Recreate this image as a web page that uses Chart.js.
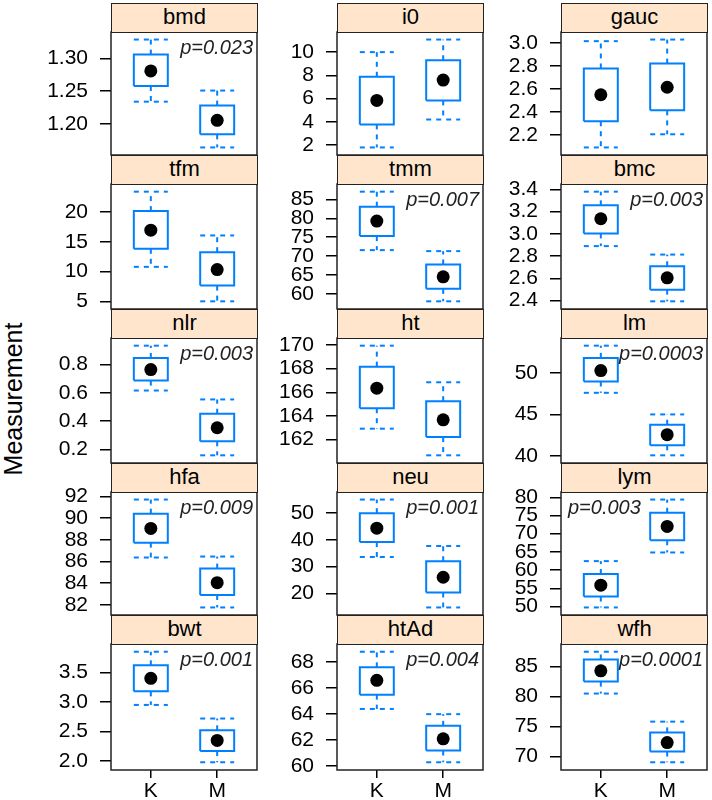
<!DOCTYPE html>
<html>
<head>
<meta charset="utf-8">
<script src="https://cdn.jsdelivr.net/npm/chart.js@4.4.1/dist/chart.umd.min.js"></script>
<style>
  body { margin: 0; background: #fff; font-family: "Liberation Sans", Arial, sans-serif; }
  #wrap { position: relative; width: 712px; height: 800px; }
  .strip {
    position: absolute; box-sizing: border-box; background: #ffe5cc;
    border: 1.5px solid #222; text-align: center; font-size: 22px;
    line-height: 26px; color: #000;
  }
  canvas { position: absolute; }
  #ylab {
    position: absolute; left: 13px; top: 399px; font-size: 25px; color: #000;
    transform: translate(-50%, -50%) rotate(-90deg); white-space: nowrap;
  }
</style>
</head>
<body>
<div id="wrap"><div id="ylab">Measurement</div></div>
<script>
// Panel names (lattice order, left-to-right, top-to-bottom)
const panels = ['bmd', 'i0', 'gauc', 'tfm', 'tmm', 'bmc', 'nlr', 'ht', 'lm', 'hfa', 'neu', 'lym', 'bwt', 'htAd', 'wfh'];
const groups = ['K', 'M'];

// Box stats per panel: [lower whisker, Q1, median, Q3, upper whisker]
const statsK = [
    [1.234, 1.258, 1.281, 1.306, 1.329],
    [1.81, 3.79, 5.85, 7.88, 10.0],
    [2.094, 2.321, 2.55, 2.778, 3.014],
    [10.81, 13.84, 16.97, 20.17, 23.43],
    [71.56, 75.27, 79.25, 83.06, 87.04],
    [2.89, 3.004, 3.136, 3.256, 3.379],
    [0.617, 0.687, 0.765, 0.847, 0.934],
    [162.93, 164.66, 166.35, 168.17, 169.94],
    [47.6, 48.96, 50.28, 51.8, 53.27],
    [86.36, 87.73, 89.04, 90.4, 91.7],
    [33.6, 39.2, 44.4, 50.0, 55.1],
    [49.73, 52.73, 55.84, 58.9, 62.46],
    [2.95, 3.18, 3.40, 3.62, 3.85],
    [64.4, 65.5, 66.6, 67.6, 68.8],
    [80.5, 82.5, 84.3, 86.2, 87.5]
];
const statsM = [
    [1.164, 1.184, 1.2055, 1.228, 1.251],
    [4.21, 5.85, 7.6, 9.30, 11.08],
    [2.208, 2.415, 2.615, 2.82, 3.028],
    [5.02, 7.66, 10.35, 13.27, 16.08],
    [58.0, 61.3, 64.5, 67.76, 71.3],
    [2.394, 2.499, 2.605, 2.709, 2.814],
    [0.159, 0.258, 0.354, 0.453, 0.554],
    [160.68, 162.22, 163.68, 165.25, 166.85],
    [40.08, 41.28, 42.57, 43.76, 45.0],
    [81.76, 82.91, 84.04, 85.34, 86.45],
    [14.7, 20.3, 26.0, 32.0, 37.7],
    [64.83, 68.19, 72.0, 75.74, 79.37],
    [1.98, 2.17, 2.35, 2.52, 2.72],
    [60.3, 61.2, 62.1, 63.1, 64.0],
    [69.0, 70.8, 72.3, 74.0, 75.8]
];

// p-value annotations ('' = none), and which side they sit on
const pValues = ['p=0.023', '', '', '', 'p=0.007', 'p=0.003', 'p=0.003', '', 'p=0.0003',
                 'p=0.009', 'p=0.001', 'p=0.003', 'p=0.001', 'p=0.004', 'p=0.0001'];
const pSide = ['right', '', '', '', 'right', 'right', 'right', '', 'right',
               'right', 'right', 'left', 'right', 'right', 'right'];

// y tick spacing and decimals for each panel
const tickSteps = [0.05, 2, 0.2, 5, 5, 0.2, 0.2, 2, 5, 2, 10, 5, 0.5, 2, 5];
const tickDecimals = [2, 0, 1, 0, 0, 1, 1, 0, 0, 0, 0, 0, 1, 0, 0];

// Layout
const colLeft = [111, 337, 561];
const panelW = 146;
const stripH = 29;
const stripTops = [3, 155, 309, 463, 615];
const plotBottom = 770;
const AXIS_W = 100;
const OVER = 14;          // room above/below the panel so edge tick labels are not clipped
const BLUE = '#0080ff';
const HALF = 0.256;

const wrap = document.getElementById('wrap');

// Draws the panel frame and the p-value label
const panelDeco = {
    id: 'panelDeco',
    afterDatasetsDraw(chart, args, opts) {
        const { ctx, chartArea: a } = chart;
        ctx.save();
        ctx.strokeStyle = '#222';
        ctx.lineWidth = 1.5;
        ctx.strokeRect(a.left, a.top, a.right - a.left, a.bottom - a.top);
        if (opts.text) {
            ctx.font = 'italic 20px "Liberation Sans", Arial, sans-serif';
            ctx.fillStyle = '#222';
            ctx.textBaseline = 'middle';
            if (opts.side === 'left') {
                ctx.textAlign = 'left';
                ctx.fillText(opts.text, a.left + 7, a.top + 16);
            } else {
                ctx.textAlign = 'right';
                ctx.fillText(opts.text, a.right - 4, a.top + 16);
            }
        }
        ctx.restore();
    }
};

function boxDatasets(x, s) {
    const [lo, q1, med, q3, hi] = s;
    const line = { showLine: true, pointRadius: 0, borderColor: BLUE, borderWidth: 2, fill: false };
    const dash = Object.assign({}, line, { borderDash: [5, 5] });
    return [
        Object.assign({ data: [{x: x, y: q3}, {x: x, y: hi}] }, dash),
        Object.assign({ data: [{x: x, y: q1}, {x: x, y: lo}] }, dash),
        Object.assign({ data: [{x: x - HALF, y: hi}, {x: x + HALF, y: hi}] }, dash),
        Object.assign({ data: [{x: x - HALF, y: lo}, {x: x + HALF, y: lo}] }, dash),
        Object.assign({ data: [
            {x: x - HALF, y: q1}, {x: x + HALF, y: q1}, {x: x + HALF, y: q3},
            {x: x - HALF, y: q3}, {x: x - HALF, y: q1}
        ] }, line),
        { data: [{x: x, y: med}], showLine: false, pointRadius: 6.5,
          pointBackgroundColor: '#000', pointBorderWidth: 0 }
    ];
}

for (let i = 0; i < panels.length; i++) {
    const row = Math.floor(i / 3);
    const col = i % 3;
    const last = row === 4;
    const stripTop = stripTops[row];
    const panelTop = stripTop + stripH;
    const panelBottom = last ? plotBottom : stripTops[row + 1];
    const panelH = panelBottom - panelTop;

    // Canvas
    const canvas = document.createElement('canvas');
    const cw = AXIS_W + panelW + 1;
    const ch = OVER + panelH + (last ? 38 : OVER);
    canvas.width = cw;
    canvas.height = ch;
    canvas.style.left = (colLeft[col] - AXIS_W) + 'px';
    canvas.style.top = (panelTop - OVER) + 'px';
    canvas.style.width = cw + 'px';
    canvas.style.height = ch + 'px';
    wrap.appendChild(canvas);

    // Strip label (on top of the transparent canvas margin)
    const strip = document.createElement('div');
    strip.className = 'strip';
    strip.style.left = colLeft[col] + 'px';
    strip.style.top = stripTop + 'px';
    strip.style.width = (panelW + 1) + 'px';
    strip.style.height = (stripH + 1) + 'px';
    strip.textContent = panels[i];
    wrap.appendChild(strip);

    const all = statsK[i].concat(statsM[i]);
    const lo = Math.min(...all);
    const hi = Math.max(...all);
    const pad = (hi - lo) * 0.07;
    const dec = tickDecimals[i];

    new Chart(canvas, {
        type: 'scatter',
        data: { datasets: boxDatasets(1, statsK[i]).concat(boxDatasets(2, statsM[i])) },
        options: {
            responsive: false,
            maintainAspectRatio: false,
            animation: false,
            devicePixelRatio: 1,
            layout: { autoPadding: false, padding: { top: OVER, right: 1, bottom: last ? 0 : OVER, left: 0 } },
            plugins: {
                legend: { display: false },
                tooltip: { enabled: false },
                panelDeco: { text: pValues[i], side: pSide[i] }
            },
            scales: {
                x: {
                    type: 'linear',
                    min: 0.4,
                    max: 2.6,
                    display: last,
                    afterBuildTicks: (s) => { s.ticks = [{ value: 1 }, { value: 2 }]; },
                    afterFit: (s) => {
                        s.height = last ? 38 : 0;
                        s.paddingLeft = 0; s.paddingRight = 0;
                    },
                    grid: { drawOnChartArea: false, tickLength: 8, color: '#000', lineWidth: 1.5 },
                    border: { display: false },
                    ticks: {
                        autoSkip: false, maxRotation: 0, padding: 1, color: '#000',
                        font: { size: 21, family: '"Liberation Sans", Arial, sans-serif' },
                        callback: (v) => groups[v - 1]
                    }
                },
                y: {
                    type: 'linear',
                    min: lo - pad,
                    max: hi + pad,
                    afterFit: (s) => {
                        s.width = AXIS_W;
                        s.paddingTop = 0; s.paddingBottom = 0;
                    },
                    grid: { drawOnChartArea: false, tickLength: 11, color: '#000', lineWidth: 1.5 },
                    border: { display: false },
                    ticks: {
                        stepSize: tickSteps[i], includeBounds: false, autoSkip: false,
                        padding: 12, color: '#000',
                        font: { size: 21, family: '"Liberation Sans", Arial, sans-serif' },
                        callback: (v) => Number(v).toFixed(dec)
                    }
                }
            }
        },
        plugins: [panelDeco]
    });
}
</script>
</body>
</html>
